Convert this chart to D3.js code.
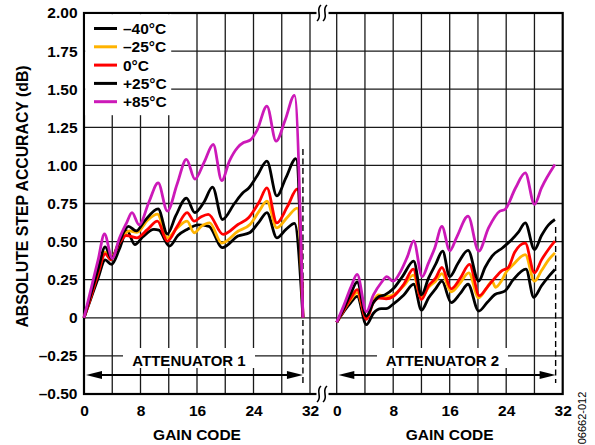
<!DOCTYPE html>
<html><head><meta charset="utf-8">
<script src="https://cdn.jsdelivr.net/npm/d3@7"></script>
<style>
html,body{margin:0;padding:0;background:#fff;}
svg{display:block;}
text{font-family:"Liberation Sans",Arial,sans-serif;font-weight:bold;fill:#000;}
</style>
</head><body>
<svg id="c" width="595" height="445"></svg>
<script>
// ---------- DATA ----------
const seriesNames = ["–40°C", "–25°C", "0°C", "+25°C", "+85°C"];
const seriesColors = ["#000000", "#FFB300", "#FF0000", "#000000", "#CC19B8"];

const yTicks = [-0.5, -0.25, 0, 0.25, 0.5, 0.75, 1.0, 1.25, 1.5, 1.75, 2.0];
const yTickLabels = ["–0.50", "–0.25", "0", "0.25", "0.50", "0.75", "1.00", "1.25", "1.50", "1.75", "2.00"];
const xTicks = [0, 8, 16, 24, 32];
const xGrid = [0, 4, 8, 12, 16, 20, 24, 28, 32];

// Attenuator 1 ([gain code, dB])
const att1_m40 = [[0,0],[1,0.13],[2,0.26],[3,0.38],[3.9,0.35],[5,0.45],[6.1,0.57],[7.2,0.48],[8.3,0.53],[9.9,0.58],[10.6,0.575],[12.1,0.47],[13.3,0.54],[14.6,0.58],[16.2,0.61],[17.7,0.60],[19.6,0.46],[21.8,0.536],[23.5,0.56],[24.8,0.63],[25.9,0.69],[27.3,0.525],[28.6,0.58],[29.8,0.62],[31,0]];
const att1_m25 = [[0,0],[1,0.15],[2,0.3],[3,0.43],[3.8,0.39],[5,0.5],[6.4,0.57],[7.5,0.56],[9,0.64],[10.4,0.68],[11.8,0.525],[13.2,0.59],[14.6,0.634],[15.6,0.558],[16.6,0.6],[17.8,0.623],[19.5,0.49],[21.8,0.568],[23.5,0.612],[24.8,0.70],[25.9,0.766],[27.3,0.59],[28.8,0.66],[30.2,0.72],[31,0]];
const att1_0 = [[0,0],[1,0.14],[2,0.29],[3,0.42],[3.8,0.38],[5,0.49],[6,0.54],[7.5,0.525],[9,0.58],[10.4,0.634],[11.8,0.503],[13.2,0.60],[14.6,0.69],[15.6,0.634],[16.5,0.66],[17.6,0.678],[19.7,0.547],[21.8,0.612],[23.3,0.656],[24.8,0.76],[25.9,0.853],[27.3,0.623],[28.8,0.73],[30.2,0.845],[31,0]];
const att1_p25 = [[0,0],[1,0.16],[2,0.32],[3,0.465],[3.9,0.39],[5,0.5],[6.3,0.60],[7.4,0.57],[8.5,0.63],[10.5,0.715],[11.8,0.55],[13,0.67],[14.5,0.785],[15.7,0.69],[17,0.76],[18.2,0.857],[19.6,0.645],[21.3,0.75],[22.5,0.82],[23.3,0.85],[24.5,0.93],[25.9,1.028],[27.3,0.80],[28.6,0.92],[30,1.045],[31,0]];
const att1_p85 = [[0,0],[1,0.19],[2,0.38],[2.9,0.55],[4,0.39],[5,0.52],[6,0.62],[6.8,0.69],[7.8,0.61],[9.2,0.76],[10.5,0.885],[11.8,0.70],[13.2,0.88],[14.5,1.04],[15.7,0.91],[17,1.02],[18.3,1.137],[19.5,0.9],[20.6,1.03],[21.8,1.12],[22.6,1.15],[23.5,1.165],[24.5,1.23],[25.9,1.389],[27.2,1.159],[28.5,1.30],[29.8,1.46],[31,0]];

// Attenuator 2 ([gain code, dB])
const att2_m40 = [[0,-0.03],[1,0.04],[2,0.1],[2.9,0.14],[4.2,-0.045],[5.2,0.03],[6.3,0.06],[7,0.06],[8,0.09],[9.5,0.15],[10.9,0.22],[12,0.05],[13,0.13],[14,0.19],[14.9,0.24],[16.2,0.1],[17.5,0.16],[18.6,0.22],[20.1,0.044],[21.3,0.1],[22.4,0.153],[23.8,0.175],[25,0.25],[26.8,0.32],[27.9,0.135],[29,0.21],[30,0.27],[30.9,0.317]];
const att2_m25 = [[0,-0.03],[1,0.05],[2,0.12],[2.9,0.165],[4.2,0.0],[5.2,0.11],[5.9,0.15],[7,0.14],[8,0.15],[9.5,0.21],[10.85,0.28],[12,0.13],[13,0.2],[14,0.24],[14.9,0.29],[16.2,0.17],[17.5,0.23],[18.7,0.295],[20.1,0.131],[21.3,0.2],[22,0.24],[22.5,0.2],[23.3,0.24],[24,0.3],[25,0.35],[26.7,0.415],[28,0.24],[29,0.31],[30,0.38],[30.9,0.426]];
const att2_0 = [[0,-0.03],[1,0.05],[2,0.13],[2.9,0.185],[4.2,-0.01],[5.2,0.1],[6,0.13],[7,0.125],[8,0.14],[9.5,0.22],[10.85,0.32],[12,0.12],[13,0.21],[14,0.26],[14.9,0.33],[16.2,0.19],[17.5,0.26],[18.8,0.35],[20.2,0.145],[21.3,0.2],[22.2,0.25],[23.4,0.31],[24.3,0.33],[25.2,0.43],[26.7,0.49],[28,0.295],[29,0.38],[30,0.45],[30.9,0.503]];
const att2_p25 = [[0,-0.03],[1,0.06],[2,0.16],[2.9,0.235],[4.2,0.01],[5.2,0.1],[6,0.14],[6.8,0.15],[8,0.19],[9.3,0.27],[10.9,0.372],[12,0.15],[13,0.26],[14,0.35],[15,0.437],[16,0.27],[17.2,0.36],[18.6,0.442],[20.1,0.24],[21,0.33],[22,0.405],[23.5,0.46],[24.8,0.514],[25.7,0.56],[26.7,0.623],[28,0.448],[29,0.54],[30,0.61],[30.9,0.645]];
const att2_p85 = [[0,-0.03],[1,0.08],[2,0.2],[2.9,0.285],[4.2,0.04],[5.2,0.15],[6.3,0.23],[7.1,0.27],[8,0.24],[9,0.3],[10,0.4],[10.9,0.505],[12.1,0.27],[13,0.36],[13.9,0.46],[14.9,0.60],[16,0.44],[17,0.53],[18.6,0.667],[20.1,0.437],[21.5,0.59],[23.1,0.70],[23.8,0.71],[25.3,0.85],[26.7,0.951],[28,0.744],[29,0.853],[30.9,1.006]];

const att1Series = [att1_m40, att1_m25, att1_0, att1_p25, att1_p85];
const att2Series = [att2_m40, att2_m25, att2_0, att2_p25, att2_p85];

// ---------- LAYOUT ----------
const svg = d3.select("#c");
const L = 84, R = 562.7, T = 13, B = 394;
const y = d3.scaleLinear().domain([-0.5, 2]).range([B, T]);
const x1 = d3.scaleLinear().domain([0, 32]).range([84, 310]);
const x2 = d3.scaleLinear().domain([0, 32]).range([336.7, 562.7]);

// grid
const g = svg.append("g");
g.selectAll("line.h").data(yTicks.slice(1, -1)).enter().append("line")
  .attr("x1", L).attr("x2", R).attr("y1", d => y(d)).attr("y2", d => y(d))
  .attr("stroke", "#1a1a1a").attr("stroke-width", 1.3);
g.selectAll("line.v1").data(xGrid.slice(1)).enter().append("line")
  .attr("x1", d => x1(d)).attr("x2", d => x1(d)).attr("y1", T).attr("y2", B)
  .attr("stroke", "#1a1a1a").attr("stroke-width", 1.3);
g.selectAll("line.v2").data(xGrid.slice(0, -1)).enter().append("line")
  .attr("x1", d => x2(d)).attr("x2", d => x2(d)).attr("y1", T).attr("y2", B)
  .attr("stroke", "#1a1a1a").attr("stroke-width", 1.3);

// frame
svg.append("rect").attr("x", L).attr("y", T).attr("width", R - L).attr("height", B - T)
  .attr("fill", "none").attr("stroke", "#000").attr("stroke-width", 2.2);

// axis breaks
[T, B].forEach(yy => {
  svg.append("rect").attr("x", 316.5).attr("y", yy - 3).attr("width", 12).attr("height", 6).attr("fill", "#fff");
  [319, 325].forEach(cx => {
    svg.append("path")
      .attr("d", `M${cx + 2},${yy - 8} C${cx - 4},${yy - 3} ${cx + 4},${yy + 3} ${cx - 2},${yy + 8}`)
      .attr("fill", "none").attr("stroke", "#000").attr("stroke-width", 1.6);
  });
});

// legend background
svg.append("rect").attr("x", L + 1.2).attr("y", T + 1.2).attr("width", 86).attr("height", 101).attr("fill", "#fff");

// annotation backgrounds
svg.append("rect").attr("x", 123).attr("y", 348).attr("width", 132).attr("height", 20).attr("fill", "#fff");
svg.append("rect").attr("x", 377).attr("y", 348).attr("width", 131).attr("height", 20).attr("fill", "#fff");

// dashed markers at code 31
svg.append("line").attr("x1", x1(31)).attr("x2", x1(31)).attr("y1", 149).attr("y2", 383)
  .attr("stroke", "#000").attr("stroke-width", 1.4).attr("stroke-dasharray", "6,3.5");
svg.append("line").attr("x1", x2(31)).attr("x2", x2(31)).attr("y1", 227).attr("y2", 383)
  .attr("stroke", "#000").attr("stroke-width", 1.4).attr("stroke-dasharray", "6,3.5");

// arrows
function arrow(xa, xb, yy) {
  svg.append("line").attr("x1", xa + 10).attr("x2", xb - 10).attr("y1", yy).attr("y2", yy)
    .attr("stroke", "#000").attr("stroke-width", 2);
  svg.append("path").attr("d", `M${xa},${yy} L${xa + 16},${yy - 4} L${xa + 16},${yy + 4} Z`).attr("fill", "#000");
  svg.append("path").attr("d", `M${xb},${yy} L${xb - 16},${yy - 4} L${xb - 16},${yy + 4} Z`).attr("fill", "#000");
}
arrow(x1(0) + 2, x1(31), 375);
arrow(x2(0) + 1.6, x2(31), 375);

svg.append("text").attr("x", 189).attr("y", 365.5).attr("text-anchor", "middle")
  .style("font-size", "15px").text("ATTENUATOR 1");
svg.append("text").attr("x", 442.5).attr("y", 365.5).attr("text-anchor", "middle")
  .style("font-size", "15px").text("ATTENUATOR 2");

// curves
const line1 = d3.line().x(d => x1(d[0])).y(d => y(d[1])).curve(d3.curveMonotoneX);
const line2 = d3.line().x(d => x2(d[0])).y(d => y(d[1])).curve(d3.curveMonotoneX);
att1Series.forEach((s, i) => {
  svg.append("path").attr("d", line1(s)).attr("fill", "none")
    .attr("stroke", seriesColors[i]).attr("stroke-width", 2.8).attr("stroke-linejoin", "round");
});
att2Series.forEach((s, i) => {
  svg.append("path").attr("d", line2(s)).attr("fill", "none")
    .attr("stroke", seriesColors[i]).attr("stroke-width", 2.8).attr("stroke-linejoin", "round");
});

// legend
const leg = svg.append("g");
seriesNames.forEach((n, i) => {
  const yy = 28.5 + i * 18.3;
  leg.append("line").attr("x1", 94).attr("x2", 117).attr("y1", yy).attr("y2", yy)
    .attr("stroke", seriesColors[i]).attr("stroke-width", 3);
  leg.append("text").attr("x", 123).attr("y", yy + 5.5).style("font-size", "15.5px").text(n);
});

// axes
const yAxis = svg.append("g").attr("transform", `translate(${L},0)`)
  .call(d3.axisLeft(y).tickValues(yTicks).tickFormat((d, i) => yTickLabels[i]).tickSize(0).tickPadding(6.5));
yAxis.select(".domain").remove();
yAxis.selectAll("text").style("font-size", "15.5px").style("font-family", "'Liberation Sans', Arial, sans-serif").style("font-weight", "bold");

[x1, x2].forEach(sc => {
  const ax = svg.append("g").attr("transform", `translate(0,${B})`)
    .call(d3.axisBottom(sc).tickValues(xTicks).tickFormat(d => String(d)).tickSize(0));
  ax.select(".domain").remove();
  ax.selectAll("text").attr("y", 21.5).attr("dy", 0)
    .style("font-size", "15.5px").style("font-family", "'Liberation Sans', Arial, sans-serif").style("font-weight", "bold");
});

svg.append("text").attr("x", (x1(0) + x1(32)) / 2).attr("y", 440).attr("text-anchor", "middle")
  .style("font-size", "15.5px").text("GAIN CODE");
svg.append("text").attr("x", (x2(0) + x2(32)) / 2).attr("y", 440).attr("text-anchor", "middle")
  .style("font-size", "15.5px").text("GAIN CODE");

svg.append("text").attr("transform", "translate(27.5,196.5) rotate(-90)").attr("text-anchor", "middle")
  .style("font-size", "15.8px").text("ABSOLUTE STEP ACCURACY (dB)");

svg.append("text").attr("transform", "translate(585.5,418) rotate(-90)").attr("text-anchor", "middle")
  .style("font-size", "11px").style("font-weight", "normal").text("06662-012");
</script>
</body></html>
